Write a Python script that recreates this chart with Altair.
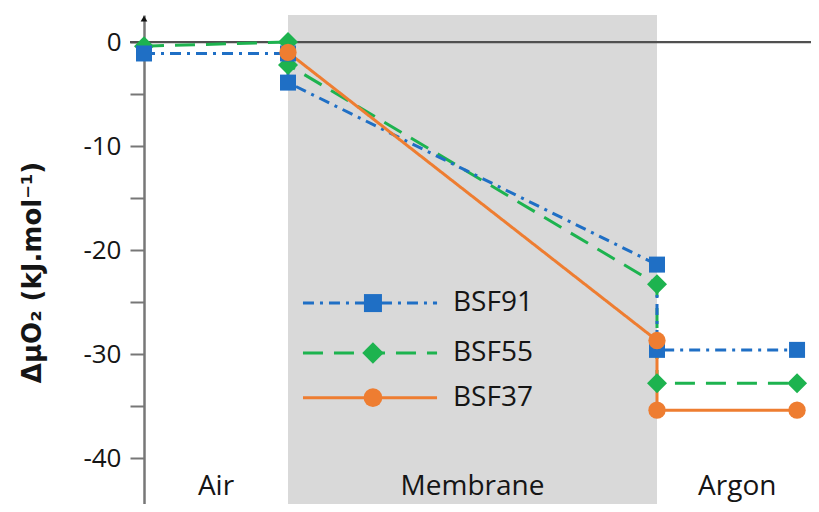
import altair as alt
import pandas as pd

# ---------------- data ----------------
series = ["BSF91", "BSF55", "BSF37"]
bsf91_x = [0, 1, 1, 3.5625, 3.5625, 4.535]
bsf91_y = [-1.1, -1.1, -3.9, -21.4, -29.6, -29.6]
bsf55_x = [0, 1, 1, 3.5625, 3.5625, 4.535]
bsf55_y = [-0.4, 0.0, -2.2, -23.3, -32.8, -32.8]
bsf37_x = [1, 3.5625, 3.5625, 4.535]
bsf37_y = [-1.0, -28.7, -35.4, -35.4]

regions = ["Air", "Membrane", "Argon"]
region_start = [0, 1, 3.5625]
region_end = [1, 3.5625, 4.632]
y_ticks = [0, -5, -10, -15, -20, -25, -30, -35, -40]

# ---------------- styles / layout ----------------
colors = ["#1f6fc5", "#1db34f", "#ee7d31"]
dashes = [[11, 6, 3, 6], [20, 11], [1, 0]]
shapes = ["square", "diamond", "circle"]
marker_size = {"BSF91": 256, "BSF55": 400, "BSF37": 300}
legend_marker_size = {"BSF91": 324, "BSF55": 460, "BSF37": 350}
W, H = 667, 489
X_DOMAIN = [0, W / 144]
Y_DOMAIN = [-44.42, 2.6]
FONT = "Open Sans"
TXT = "#151515"

rows = []
for name, xs_, ys_ in [("BSF55", bsf55_x, bsf55_y), ("BSF91", bsf91_x, bsf91_y), ("BSF37", bsf37_x, bsf37_y)]:
    for i, (xv, yv) in enumerate(zip(xs_, ys_)):
        rows.append({"series": name, "x": xv, "y": yv, "order": i, "msize": marker_size[name]})
df = pd.DataFrame(rows)

reg_df = pd.DataFrame({"region": regions, "start": region_start, "end": region_end,
                       "mid": [(a + b) / 2 for a, b in zip(region_start, region_end)]})
reg_df.loc[reg_df.region == "Argon", "mid"] = 4.12
reg_df["label_y"] = -42.8
shade_df = reg_df[reg_df.region == "Membrane"]

# legend placement (layout, in data units)
leg_df = pd.DataFrame({"series": series})
leg_df["x0"] = 1.104
leg_df["x1"] = 2.035
leg_df["xm"] = 1.59
leg_df["xt"] = 2.146
leg_df["y"] = [-25.1, -29.9, -34.2]
leg_df["msize"] = [legend_marker_size[s] for s in series]

xs = alt.Scale(domain=X_DOMAIN, nice=False, zero=False)
ys = alt.Scale(domain=Y_DOMAIN, nice=False, zero=False)
col = alt.Color("series:N", scale=alt.Scale(domain=series, range=colors), legend=None)
dash = alt.StrokeDash("series:N", scale=alt.Scale(domain=series, range=dashes), legend=None)
shp = alt.Shape("series:N", scale=alt.Scale(domain=series, range=shapes), legend=None)
sizes = alt.Size("msize:Q", scale=None, legend=None)

shade = alt.Chart(shade_df).mark_rect(color="#d9d9d9").encode(
    x=alt.X("start:Q", scale=xs, axis=None),
    x2="end:Q",
    y=alt.value(0),
    y2=alt.value(H),
)

zero_line = alt.Chart(pd.DataFrame({"y": [0]})).mark_rule(color="#505050", strokeWidth=2.2).encode(
    y=alt.Y("y:Q", scale=ys),
    x=alt.value(-14),
    x2=alt.value(W),
)

lines = alt.Chart(df).mark_line(strokeWidth=3).encode(
    x=alt.X("x:Q", scale=xs, axis=None),
    y=alt.Y("y:Q", scale=ys,
            axis=alt.Axis(values=y_ticks,
                          labelExpr="datum.value % 10 == 0 ? '' + datum.value : ''",
                          title="ΔμO₂ (kJ.mol⁻¹)",
                          titleFont="DejaVu Sans",
                          titleFontWeight="bold", titleFontSize=26, titleColor=TXT,
                          titleX=-112, titleY=257, titleAngle=270,
                          titleAlign="center", titleBaseline="middle",
                          labelFontSize=26, labelColor=TXT, labelPadding=9,
                          tickSize=14, tickWidth=2, tickColor="#777777",
                          domainColor="#777777", domainWidth=2.5,
                          grid=False)),
    color=col,
    strokeDash=dash,
    detail="series:N",
    order="order:Q",
)

points = alt.Chart(df).mark_point(filled=True, opacity=1).encode(
    x=alt.X("x:Q", scale=xs),
    y=alt.Y("y:Q", scale=ys),
    color=col, shape=shp, size=sizes,
)

leg_rules = alt.Chart(leg_df).mark_rule(strokeWidth=3).encode(
    x=alt.X("x0:Q", scale=xs), x2="x1:Q",
    y=alt.Y("y:Q", scale=ys),
    color=col, strokeDash=dash,
)
leg_pts = alt.Chart(leg_df).mark_point(filled=True, opacity=1).encode(
    x=alt.X("xm:Q", scale=xs),
    y=alt.Y("y:Q", scale=ys),
    color=col, shape=shp, size=sizes,
)
leg_txt = alt.Chart(leg_df).mark_text(align="left", baseline="middle", fontSize=28,
                                      font=FONT, color=TXT).encode(
    x=alt.X("xt:Q", scale=xs),
    y=alt.Y("y:Q", scale=ys),
    text="series:N",
)

reg_txt = alt.Chart(reg_df).mark_text(align="center", baseline="middle", fontSize=28,
                                      font=FONT, color=TXT).encode(
    x=alt.X("mid:Q", scale=xs),
    y=alt.Y("label_y:Q", scale=ys),
    text="region:N",
)

arrow = alt.Chart(pd.DataFrame({"x": [0], "y": [2.25]})).mark_point(
    shape="triangle-up", filled=True, color="#111111", size=45, opacity=1).encode(
    x=alt.X("x:Q", scale=xs),
    y=alt.Y("y:Q", scale=ys),
)

chart = alt.layer(shade, zero_line, lines, points, leg_rules, leg_pts, leg_txt, reg_txt, arrow).properties(
    width=W, height=H,
    padding={"left": 136, "top": 7, "right": 0, "bottom": 0},
    autosize=alt.AutoSizeParams(type="none"),
).configure(font=FONT).configure_view(stroke=None)

chart.save("out.html", embed_options={"renderer": "svg", "actions": False})
